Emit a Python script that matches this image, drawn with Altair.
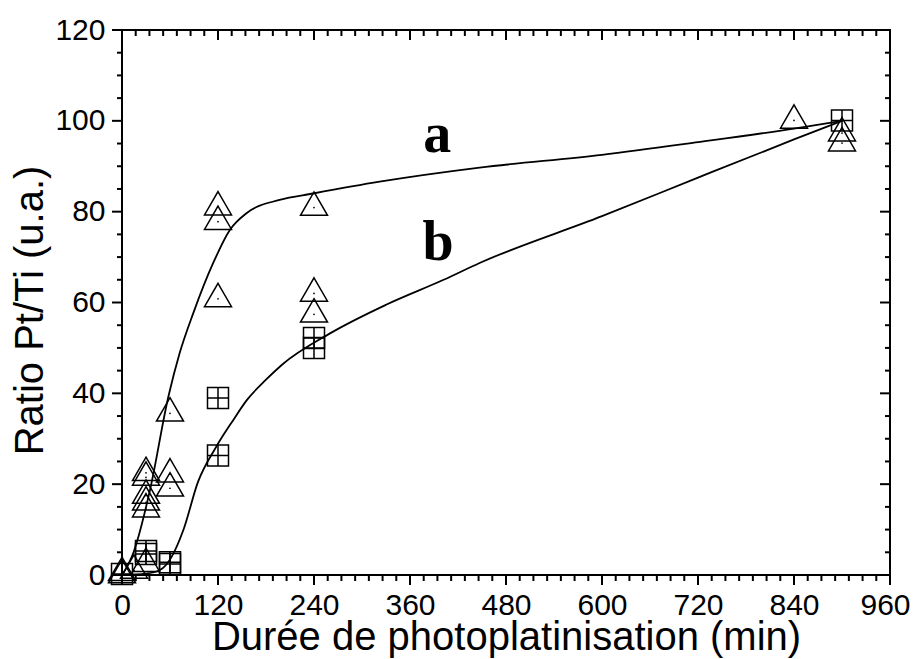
import altair as alt
import pandas as pd

# ---- data ----
# series a (triangles)
tri_x = [0, 0, 15, 30, 30, 30, 30, 30, 30, 60, 60, 60, 120, 120, 120, 240, 240, 240, 840, 900, 900]
tri_y = [0, 0.5, 1, 2.5, 22.5, 21.5, 17.5, 16, 14.5, 35.6, 22.2, 19.1, 81, 77.8, 60.8, 80.9, 62, 57.4, 100.1, 97.3, 95.1]
# series b (crossed squares)
sq_x = [0, 30, 30, 60, 60, 120, 120, 240, 240, 900]
sq_y = [0.2, 5.3, 4.6, 2.4, 2.8, 39, 26.3, 52.2, 50, 100.1]
# fitted curves
curve_a_x = [0, 14, 35, 58, 72, 89, 114, 135, 156, 197, 239, 322, 447, 600, 720, 840, 900]
curve_a_y = [0, 4.8, 18.7, 39.3, 48.8, 57.6, 68.7, 76, 79.7, 82.6, 84, 86.6, 89.7, 92.5, 95.3, 98.3, 100]
curve_b_x = [0, 30, 47.5, 62, 76.7, 95, 118, 139, 156, 180, 200, 260, 330, 402, 447, 600, 720, 840, 900]
curve_b_y = [0, 0.3, 1.1, 4, 9.9, 20.5, 28.3, 34.1, 38.5, 43, 46.3, 53.2, 59.5, 65, 68.7, 79, 87.5, 95.9, 100]
# curve labels
label_text = ["a", "b"]
label_x = [394, 395]
label_y = [93.2, 69.4]
# axes
x_major = [0, 120, 240, 360, 480, 600, 720, 840, 960]
y_major = [0, 20, 40, 60, 80, 100, 120]
x_minor = [round(i * 120 / 7, 4) for i in range(57) if i % 7]
y_minor = [v for v in range(0, 121, 5) if v % 20]

W, H = 768, 545
FONT = "Liberation Sans"

xs = alt.Scale(domain=[0, 960], nice=False, zero=False)
ys = alt.Scale(domain=[0, 120], nice=False, zero=False)

tri = pd.DataFrame({"x": tri_x, "y": tri_y})
sq = pd.DataFrame({"x": sq_x, "y": sq_y})
ca = pd.DataFrame({"x": curve_a_x, "y": curve_a_y})
cb = pd.DataFrame({"x": curve_b_x, "y": curve_b_y})
lab = pd.DataFrame({"t": label_text, "x": label_x, "y": label_y})
xM = pd.DataFrame({"v": x_major})
xm = pd.DataFrame({"v": x_minor})
yM = pd.DataFrame({"v": y_major})
ym = pd.DataFrame({"v": y_minor})

x_axis = alt.Axis(values=x_major, format="d", ticks=False, domain=False, grid=False,
                  labelFont=FONT, labelFontSize=30, labelColor="black", labelPadding=15,
                  labelOffset={"condition": {"test": "datum.value == 960", "value": -5}, "value": 0},
                  labelFlush=False, title="Durée de photoplatinisation (min)",
                  titleFont=FONT, titleFontSize=40, titleFontWeight="normal", titleColor="black",
                  titleBaseline="alphabetic", titleY=74)
y_axis = alt.Axis(values=y_major, format="d", ticks=False, domain=False, grid=False,
                  labelFont=FONT, labelFontSize=30, labelColor="black", labelPadding=17,
                  labelFlush=False, title="Ratio Pt/Ti (u.a.)",
                  titleFont=FONT, titleFontSize=40, titleFontWeight="normal", titleColor="black",
                  titleBaseline="alphabetic", titleX=-80, titleY=280)

TRI = "M0,-1.155L1,0.577L-1,0.577Z"
SQ = "M-1,-1L1,-1L1,1L-1,1Z M0,-1L0,1 M-1,0L1,0"

base_x = alt.X("x:Q", scale=xs, axis=x_axis)
base_y = alt.Y("y:Q", scale=ys, axis=y_axis)

line_a = alt.Chart(ca).mark_line(interpolate="monotone", color="black", strokeWidth=1.8).encode(x=base_x, y=base_y)
line_b = alt.Chart(cb).mark_line(interpolate="monotone", color="black", strokeWidth=1.8).encode(x="x:Q", y="y:Q")

tri_pts = alt.Chart(tri).mark_point(shape=TRI, size=729, filled=False, stroke="black",
                                    strokeWidth=1.5, opacity=1).encode(x="x:Q", y="y:Q")
tri_dots = alt.Chart(tri).mark_circle(size=3, color="black", opacity=1).encode(x="x:Q", y="y:Q")
sq_pts = alt.Chart(sq).mark_point(shape=SQ, size=441, filled=False, stroke="black",
                                  strokeWidth=1.5, opacity=1).encode(x="x:Q", y="y:Q")

labels = alt.Chart(lab).mark_text(font="Liberation Serif", fontWeight="bold", fontSize=56,
                                  baseline="alphabetic", align="center", color="black").encode(
    x="x:Q", y="y:Q", text="t:N")

def xticks(df, y0, y1):
    return alt.Chart(df).mark_rule(color="black", strokeWidth=2).encode(
        x=alt.X("v:Q"), y=alt.value(y0), y2=alt.value(y1))

def yticks(df, x0, x1):
    return alt.Chart(df).mark_rule(color="black", strokeWidth=2).encode(
        y=alt.Y("v:Q"), x=alt.value(x0), x2=alt.value(x1))

ticks = [
    xticks(xM, H, H + 10), xticks(xm, H, H + 6),
    xticks(xM, 0, 10), xticks(xm, 0, 6),
    yticks(yM, 0, -10), yticks(ym, 0, -5),
    yticks(yM, W, W - 10), yticks(ym, W, W - 5),
]

chart = alt.layer(line_a, line_b, tri_pts, tri_dots, sq_pts, labels, *ticks).properties(
    width=W, height=H,
    padding={"left": 114, "top": 22, "right": 23, "bottom": 84},
    autosize=alt.AutoSizeParams(type="none"),
    background="white",
).configure_view(stroke="black", strokeWidth=2)

chart.save("out.html", embed_options={"renderer": "svg", "actions": False})
